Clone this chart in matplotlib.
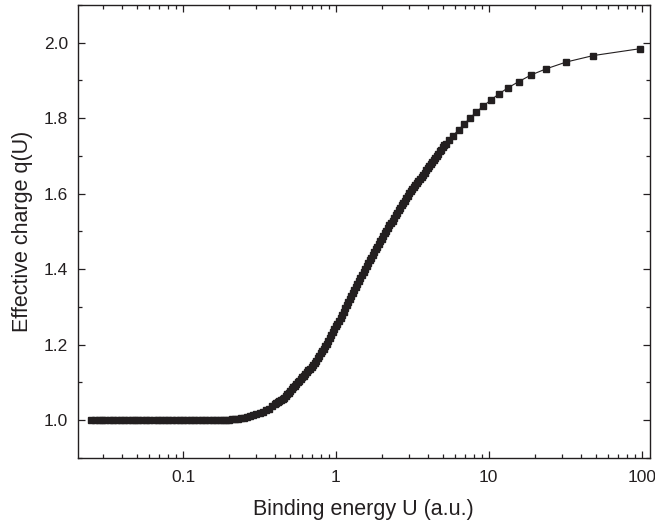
import matplotlib
matplotlib.use("Agg")
import matplotlib.pyplot as plt
from matplotlib.ticker import MultipleLocator, FuncFormatter, LogLocator

plt.rcParams['font.family'] = ['Liberation Sans', 'DejaVu Sans']

# binding energy U (a.u.) - flat part, q = 1
u_flat = [0.025, 0.0265, 0.028, 0.0295, 0.031, 0.033, 0.035, 0.037, 0.039,
          0.041, 0.0435, 0.046, 0.0485, 0.051, 0.054, 0.057, 0.060, 0.064,
          0.068, 0.072, 0.076, 0.080, 0.085, 0.090, 0.095, 0.100, 0.106,
          0.112, 0.118, 0.125, 0.132, 0.140, 0.148, 0.156, 0.165, 0.174]
q_flat = [1.0] * len(u_flat)

# rising part (dense markers)
u_rise = [0.182, 0.191, 0.200, 0.209, 0.219, 0.229, 0.240, 0.251, 0.263,
          0.275, 0.288, 0.302, 0.316, 0.331, 0.347, 0.363, 0.380, 0.398,
          0.407, 0.417, 0.427, 0.437, 0.447, 0.457, 0.468, 0.479, 0.490,
          0.501, 0.513, 0.525, 0.537, 0.550, 0.562, 0.575, 0.589, 0.603,
          0.617, 0.631, 0.646, 0.661, 0.676, 0.692, 0.708, 0.724, 0.741,
          0.759, 0.776, 0.794, 0.813, 0.832, 0.851, 0.871, 0.891, 0.912,
          0.933, 0.955, 0.977, 1.000, 1.023, 1.047, 1.072, 1.096, 1.122,
          1.148, 1.175, 1.202, 1.230, 1.259, 1.288, 1.318, 1.349, 1.380,
          1.413, 1.445, 1.479, 1.514, 1.549, 1.585, 1.622, 1.660, 1.698,
          1.738, 1.778, 1.820, 1.862, 1.905, 1.950, 1.995, 2.042, 2.089,
          2.138, 2.188, 2.239, 2.291, 2.344, 2.399, 2.455, 2.512, 2.570,
          2.630, 2.692, 2.754, 2.818, 2.884, 2.951, 3.020, 3.090, 3.162,
          3.236, 3.311, 3.388, 3.467, 3.548, 3.631, 3.715, 3.802, 3.890,
          3.981, 4.074, 4.169, 4.266, 4.365, 4.467, 4.571, 4.677, 4.786,
          4.898, 5.012, 5.129, 5.248]
q_rise = [1.000, 1.001, 1.001, 1.002, 1.003, 1.004, 1.005, 1.007, 1.009,
          1.011, 1.014, 1.017, 1.020, 1.023, 1.026, 1.031, 1.037, 1.043,
          1.046, 1.048, 1.051, 1.054, 1.057, 1.060, 1.064, 1.069, 1.073,
          1.078, 1.082, 1.087, 1.091, 1.096, 1.100, 1.105, 1.109, 1.114,
          1.118, 1.123, 1.127, 1.132, 1.136, 1.140, 1.145, 1.151, 1.157,
          1.164, 1.170, 1.177, 1.183, 1.190, 1.196, 1.203, 1.210, 1.217,
          1.225, 1.233, 1.241, 1.249, 1.256, 1.264, 1.272, 1.280, 1.288,
          1.296, 1.304, 1.312, 1.320, 1.328, 1.336, 1.344, 1.352, 1.360,
          1.368, 1.376, 1.384, 1.393, 1.401, 1.409, 1.416, 1.424, 1.431,
          1.439, 1.446, 1.453, 1.460, 1.467, 1.474, 1.481, 1.488, 1.495,
          1.502, 1.509, 1.516, 1.523, 1.529, 1.536, 1.543, 1.550, 1.556,
          1.563, 1.569, 1.576, 1.582, 1.589, 1.595, 1.601, 1.607, 1.613,
          1.618, 1.624, 1.629, 1.635, 1.640, 1.645, 1.650, 1.656, 1.662,
          1.668, 1.673, 1.679, 1.684, 1.690, 1.695, 1.701, 1.706, 1.712,
          1.717, 1.723, 1.728, 1.733]

# sparse part at large U
u_top = [5.45, 5.84, 6.34, 6.87, 7.51, 8.26, 9.18, 10.3, 11.7, 13.4,
         15.7, 19.0, 23.8, 32.2, 48.3, 97.0]
q_top = [1.741, 1.754, 1.769, 1.784, 1.800, 1.816, 1.832, 1.848, 1.865,
         1.881, 1.897, 1.915, 1.931, 1.949, 1.966, 1.984]

U = u_flat + u_rise + u_top
q = q_flat + q_rise + q_top

fig = plt.figure(figsize=(6.55, 5.28), dpi=100)
ax = fig.add_axes([0.119, 0.1326, 0.873, 0.858])

ax.plot(U, q, color='#231f20', lw=0.8, marker='s', ms=5.0,
        mec='#231f20', mfc='#231f20')

ax.set_xscale('log')
ax.set_xlim(0.0205, 113)
ax.set_ylim(0.9, 2.1)

ax.xaxis.set_major_locator(LogLocator(base=10))
ax.xaxis.set_minor_locator(LogLocator(base=10, subs=range(2, 10)))
ax.xaxis.set_major_formatter(FuncFormatter(lambda v, p: '%g' % v))
ax.yaxis.set_major_locator(MultipleLocator(0.2))
ax.yaxis.set_minor_locator(MultipleLocator(0.1))
ax.yaxis.set_major_formatter(FuncFormatter(lambda v, p: '%.1f' % v))

ax.tick_params(which='both', direction='in', top=True, right=True,
               labelsize=12.5, colors='#231f20', width=0.9)
ax.tick_params(which='major', length=5)
ax.tick_params(which='minor', length=3)
ax.tick_params(axis='x', which='major', pad=9)
ax.tick_params(axis='y', which='major', pad=7)
for s in ax.spines.values():
    s.set_linewidth(1.0)
    s.set_color('#231f20')

ax.set_xlabel('Binding energy U (a.u.)', fontsize=15.5, color='#231f20', labelpad=10)
ax.set_ylabel('Effective charge q(U)', fontsize=15.5, color='#231f20', labelpad=8)

fig.savefig('out.png', dpi=100)
